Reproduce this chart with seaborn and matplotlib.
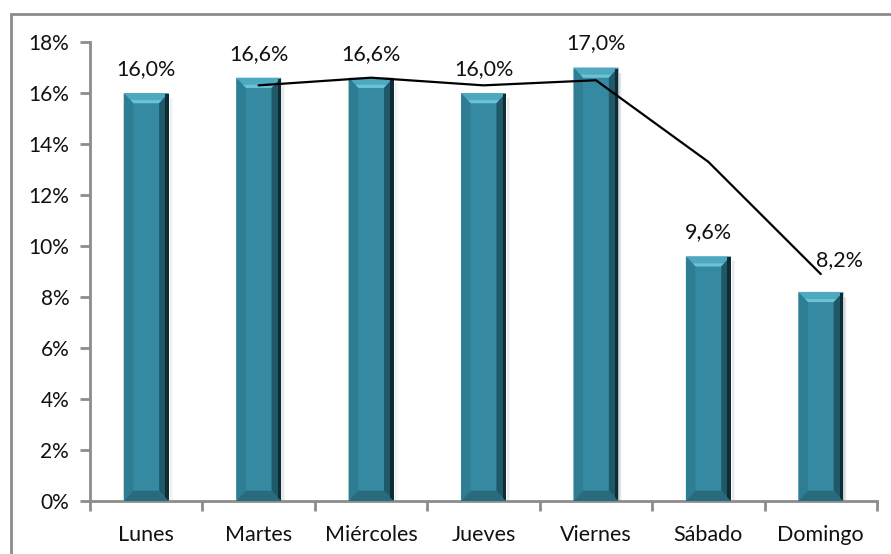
import matplotlib
matplotlib.use("Agg")

import matplotlib.pyplot as plt
import numpy as np
import pandas as pd
import seaborn as sns
from matplotlib.patches import Polygon, Rectangle
from matplotlib.ticker import FixedLocator, FuncFormatter

# ── Data ─────────────────────────────────────────────────────────────────────
days = ["Lunes", "Martes", "Miércoles", "Jueves", "Viernes", "Sábado", "Domingo"]
share = [16.0, 16.6, 16.6, 16.0, 17.0, 9.6, 8.2]
trend_days = ["Martes", "Miércoles", "Jueves", "Viernes", "Sábado", "Domingo"]
trend = [16.3, 16.6, 16.3, 16.5, 13.3, 8.9]
labels = ["16,0%", "16,6%", "16,6%", "16,0%", "17,0%", "9,6%", "8,2%"]

df = pd.DataFrame({"day": days, "share": share})

sns.set_theme(style="white")
plt.rcParams["font.family"] = ["Lato", "DejaVu Sans"]

BAR = "#3589a0"
AXIS = "#8c8c8c"

fig = plt.figure(figsize=(8.91, 5.54), dpi=100)
ax = fig.add_axes([90 / 891, 1 - 501 / 554, (877 - 90) / 891, (501 - 42) / 554])

sns.barplot(data=df, x="day", y="share", color=BAR, width=0.4, saturation=1,
            ax=ax, zorder=2)

# bevel look on every bar
bx, by = 0.085, 0.4
for p in list(ax.patches):
    x0, w, h = p.get_x(), p.get_width(), p.get_height()
    x1 = x0 + w
    # soft shadow to the right
    for k, a in enumerate([0.10, 0.06, 0.03]):
        ax.add_patch(Rectangle((x1, 0.05), 0.012 * (k + 1), h - 0.25, color="black",
                               alpha=a, zorder=1.5, lw=0))
    # top bevel
    ax.add_patch(Polygon([(x0, h), (x1, h), (x1 - bx, h - by), (x0 + bx, h - by)],
                         color="#4ea8bf", lw=0, zorder=3))
    ax.add_patch(Polygon([(x0 + bx * 0.7, h - by * 0.7), (x1 - bx * 0.7, h - by * 0.7),
                          (x1 - bx, h - by), (x0 + bx, h - by)],
                         color="#6cc2d6", lw=0, zorder=3))
    # right edge
    ax.add_patch(Polygon([(x1, h), (x1, 0), (x1 - bx, by), (x1 - bx, h - by)],
                         color="#1f5868", lw=0, zorder=3))
    ax.add_patch(Rectangle((x1 - 0.03, 0.05), 0.03, h - 0.1, color="#0f2b33",
                           lw=0, zorder=3))
    # left edge
    ax.add_patch(Polygon([(x0, h), (x0, 0), (x0 + bx, by), (x0 + bx, h - by)],
                         color="#2e7e93", lw=0, zorder=3))
    # bottom bevel
    ax.add_patch(Polygon([(x0, 0), (x1, 0), (x1 - bx, by), (x0 + bx, by)],
                         color="#276b7c", lw=0, zorder=3))

# trend line
tx = [days.index(d) for d in trend_days]
sns.lineplot(x=tx, y=trend, color="black", lw=1.6, ax=ax, zorder=4)

for i, (v, lab) in enumerate(zip(share, labels)):
    last = i == len(share) - 1
    dx = 0.17 if last else 0
    dy = 0.85 if last else 0.55
    ax.text(i + dx, v + dy, lab, ha="center", va="bottom", fontsize=15.5, color="#111111")

ax.set_xlim(-0.5, 6.5)
ax.set_ylim(0, 18)
ax.set_yticks(np.arange(0, 19, 2))
ax.yaxis.set_major_formatter(FuncFormatter(lambda v, _: f"{v:.0f}%"))
ax.xaxis.set_minor_locator(FixedLocator(np.arange(-0.5, 7, 1)))
ax.tick_params(axis="x", which="major", bottom=True, length=0, pad=17, labelsize=15.5,
               colors="#111111")
ax.tick_params(axis="x", which="minor", bottom=True, length=7, width=2, color=AXIS,
               direction="out")
ax.tick_params(axis="y", left=True, length=7, width=2, color=AXIS, direction="out", pad=8,
               labelsize=15, labelcolor="#111111")
ax.set_xlabel("")
ax.set_ylabel("")
for s in ["top", "right"]:
    ax.spines[s].set_visible(False)
for s in ["left", "bottom"]:
    ax.spines[s].set_color(AXIS)
    ax.spines[s].set_linewidth(2)

# chart frame (cropped at right and bottom)
fig.add_artist(Rectangle((11 / 891, -0.1), 1.2, 1 - 14 / 554 + 0.1,
                         transform=fig.transFigure, fill=False, ec="#8c8c8c", lw=2))

fig.savefig("out.png", dpi=100)
